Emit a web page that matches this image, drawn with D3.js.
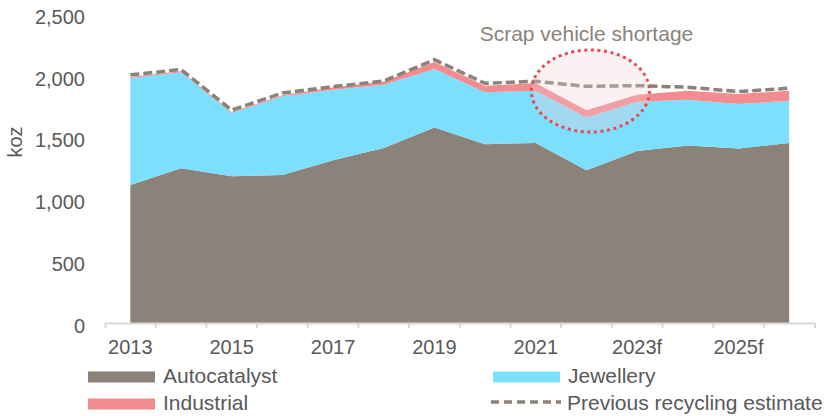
<!DOCTYPE html>
<html>
<head>
<meta charset="utf-8">
<script src="https://cdn.jsdelivr.net/npm/d3@7"></script>
<style>
  body { margin: 0; background: #fff; }
  text { font-family: "Liberation Sans", Arial, sans-serif; }
</style>
</head>
<body>
<div id="chart"></div>
<script>
// recycling supply by source, koz
const years = ["2013","2014","2015","2016","2017","2018","2019","2020","2021","2022","2023f","2024f","2025f","2026f"]
const autocatalyst = [1115, 1250, 1185, 1195, 1315, 1415, 1580, 1445, 1455, 1235, 1390, 1435, 1410, 1455]
const jewellery = [865, 777, 511, 637, 570, 511, 473, 419, 422, 426, 398, 369, 359, 341]
const industrial = [10, 8, 9, 8, 20, 25, 55, 54, 60, 59, 57, 73, 81, 81]
const previousEstimate = [2005, 2048, 1720, 1858, 1910, 1955, 2127, 1937, 1953, 1912, 1918, 1905, 1870, 1897]
const yTicks = [0, 500, 1000, 1500, 2000, 2500]
const xLabels = ["2013","2015","2017","2019","2021","2023f","2025f"]

const W = 827, H = 416
const colors = {autocatalyst: "#8b8279", jewellery: "#7ddffe", industrial: "#f28c8f", previous: "#8b8279"}
const textColor = "#595959"

const svg = d3.select("#chart").append("svg")
  .attr("width", W)
  .attr("height", H)

const x = d3.scaleBand().domain(years).range([105, 814.5]).padding(0)
const xc = d => x(d) + x.bandwidth() / 2
const y = d3.scaleLinear().domain([0, 2500]).range([323, 13.6])

// stacked areas
const rows = years.map((yr, i) => ({year: yr, autocatalyst: autocatalyst[i], jewellery: jewellery[i], industrial: industrial[i]}))
const keys = ["autocatalyst", "jewellery", "industrial"]
const stacked = d3.stack().keys(keys)(rows)

const area = d3.area()
  .x(d => xc(d.data.year))
  .y0(d => y(d[0]))
  .y1(d => y(d[1]))

svg.append("g").selectAll("path")
  .data(stacked)
  .join("path")
  .attr("fill", d => colors[d.key])
  .attr("d", area)

// previous estimate dashed line
svg.append("path")
  .datum(previousEstimate)
  .attr("fill", "none")
  .attr("stroke", colors.previous)
  .attr("stroke-width", 3.5)
  .attr("stroke-dasharray", "9,4")
  .attr("d", d3.line().x((d, i) => xc(years[i])).y(d => y(d)))

// y axis: labels only
const yAxis = svg.append("g")
  .attr("transform", "translate(105,0)")
  .call(d3.axisLeft(y).tickValues(yTicks).tickFormat(d3.format(",")).tickSize(0).tickPadding(20))
yAxis.select(".domain").remove()
yAxis.selectAll("text")
  .attr("fill", textColor)
  .style("font-size", "20px")
  .attr("dy", "0.38em")
  .attr("y", 2)

svg.append("text")
  .attr("transform", "translate(22,142) rotate(-90)")
  .attr("text-anchor", "middle")
  .attr("fill", textColor)
  .style("font-size", "20px")
  .text("koz")

// x axis
const xAxis = svg.append("g")
  .attr("transform", "translate(0,323)")
  .call(d3.axisBottom(x).tickValues(xLabels).tickSizeInner(0).tickSizeOuter(5).tickPadding(17))
xAxis.select(".domain").attr("stroke", "#d9d9d9").attr("stroke-width", 2)
xAxis.selectAll("text").attr("fill", textColor).style("font-size", "20px")
xAxis.selectAll(".tick line").remove()
xAxis.selectAll(".bound")
  .data(years.slice(1))
  .join("line")
  .attr("class", "bound")
  .attr("x1", d => x(d)).attr("x2", d => x(d))
  .attr("y1", 0).attr("y2", 5)
  .attr("stroke", "#d9d9d9")
  .attr("stroke-width", 2)

// annotation
svg.append("ellipse")
  .attr("cx", xc("2022") + 4)
  .attr("cy", y(1875))
  .attr("rx", 59)
  .attr("ry", 41)
  .attr("fill", "rgba(242,205,212,0.3)")
  .attr("stroke", "#e84a55")
  .attr("stroke-width", 3)
  .attr("stroke-dasharray", "3,3.6")

svg.append("text")
  .attr("x", xc("2022"))
  .attr("y", 41)
  .attr("text-anchor", "middle")
  .attr("fill", "#8b8279")
  .style("font-size", "21px")
  .text("Scrap vehicle shortage")

// legend
const legend = [
  {label: "Autocatalyst", color: colors.autocatalyst, x: 88, y: 377, dash: false},
  {label: "Jewellery", color: colors.jewellery, x: 493, y: 377, dash: false},
  {label: "Industrial", color: colors.industrial, x: 88, y: 404, dash: false},
  {label: "Previous recycling estimate", color: colors.previous, x: 491, y: 404, dash: true}
]
const lg = svg.append("g").selectAll("g")
  .data(legend)
  .join("g")
  .attr("transform", d => "translate(" + d.x + "," + d.y + ")")

lg.filter(d => !d.dash).append("rect")
  .attr("x", 0).attr("y", -5.5)
  .attr("width", 67).attr("height", 11)
  .attr("fill", d => d.color)

lg.filter(d => d.dash).append("line")
  .attr("x1", 0).attr("x2", 70)
  .attr("y1", -2).attr("y2", -2)
  .attr("stroke", d => d.color)
  .attr("stroke-width", 3.5)
  .attr("stroke-dasharray", "8,5")

lg.append("text")
  .attr("x", d => d.dash ? 76 : 75)
  .attr("y", 6)
  .attr("fill", textColor)
  .style("font-size", "21px")
  .text(d => d.label)
</script>
</body>
</html>
